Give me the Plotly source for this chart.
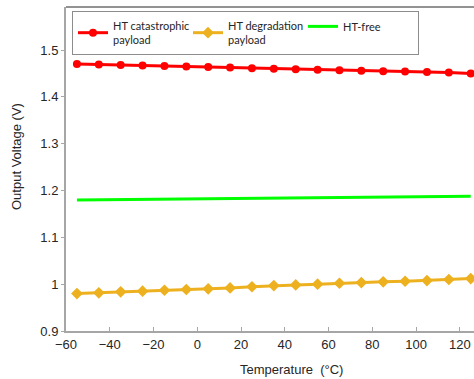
import plotly.graph_objects as go

temperature = [-55, -45, -35, -25, -15, -5, 5, 15, 25, 35, 45, 55, 65, 75, 85, 95, 105, 115, 125]
catastrophic = [1.470, 1.469, 1.468, 1.467, 1.466, 1.465, 1.464, 1.463, 1.461, 1.460,
                1.459, 1.458, 1.457, 1.456, 1.455, 1.454, 1.453, 1.452, 1.450]
degradation = [0.980, 0.9816, 0.9837, 0.985, 0.987, 0.9886, 0.990, 0.992, 0.9945, 0.997,
               0.9985, 1.000, 1.002, 1.0035, 1.005, 1.0063, 1.0077, 1.010, 1.012]
ht_free = [1.180, 1.1804, 1.1809, 1.1813, 1.1818, 1.1822, 1.1827, 1.1831, 1.1835, 1.1840,
           1.1844, 1.1849, 1.1853, 1.1858, 1.1862, 1.1866, 1.1870, 1.1873, 1.1876]
x_ticks = [-60, -40, -20, 0, 20, 40, 60, 80, 100, 120]
y_ticks = [0.9, 1.0, 1.1, 1.2, 1.3, 1.4, 1.5]

fig = go.Figure()
fig.add_trace(go.Scatter(x=temperature, y=catastrophic, mode="lines+markers",
                         name="HT catastrophic<br>payload",
                         line=dict(color="#FF0000", width=3),
                         marker=dict(symbol="circle", size=8, color="#FF0000")))
fig.add_trace(go.Scatter(x=temperature, y=degradation, mode="lines+markers",
                         name="HT degradation<br>payload",
                         line=dict(color="#EDB120", width=3),
                         marker=dict(symbol="diamond", size=9, color="#EDB120")))
fig.add_trace(go.Scatter(x=temperature, y=ht_free, mode="lines",
                         name="HT-free",
                         line=dict(color="#00FF00", width=3)))

axis_font = dict(family="Liberation Sans, Arial, sans-serif", size=13, color="#262626")
fig.update_layout(
    width=474, height=379,
    margin=dict(l=66, r=0, t=7, b=48),
    paper_bgcolor="white", plot_bgcolor="white",
    showlegend=True,
    legend=dict(orientation="h", x=0.0147, y=0.988, xanchor="left", yanchor="top",
                bgcolor="white", bordercolor="#8c8c8c", borderwidth=1,
                font=dict(family="Lato, Liberation Sans, sans-serif", size=11, color="#262626"),
                itemwidth=30, entrywidth=70, tracegroupgap=0),
    xaxis=dict(range=[-60, 126.5], tickvals=x_ticks, showgrid=False, zeroline=False,
               showline=True, linecolor="#a6a6a6", linewidth=2,
               ticks="inside", ticklen=4, tickcolor="#a6a6a6", tickfont=axis_font),
    yaxis=dict(range=[0.9, 1.592], tickvals=y_ticks, showgrid=False, zeroline=False,
               showline=True, linecolor="#a6a6a6", linewidth=2,
               ticks="outside", ticklen=3, tickcolor="#a6a6a6", tickfont=axis_font),
    shapes=[dict(type="line", xref="paper", yref="paper", x0=0, x1=1, y0=1, y1=1,
                 line=dict(color="#262626", width=1))],
    annotations=[
        dict(text="Temperature  (°C)", xref="paper", yref="paper", x=(291 - 66) / 408,
             y=(331 - 369) / 324, xanchor="center", yanchor="middle", showarrow=False,
             font=axis_font),
        dict(text="Output Voltage (V)", xref="paper", yref="paper", x=(17 - 66) / 408,
             y=(331 - 157) / 324, xanchor="center", yanchor="middle", showarrow=False,
             textangle=-90, font=axis_font),
    ],
)
fig.write_html("out.html", config={"displayModeBar": False},
               post_script="document.body.style.margin='0px';")
